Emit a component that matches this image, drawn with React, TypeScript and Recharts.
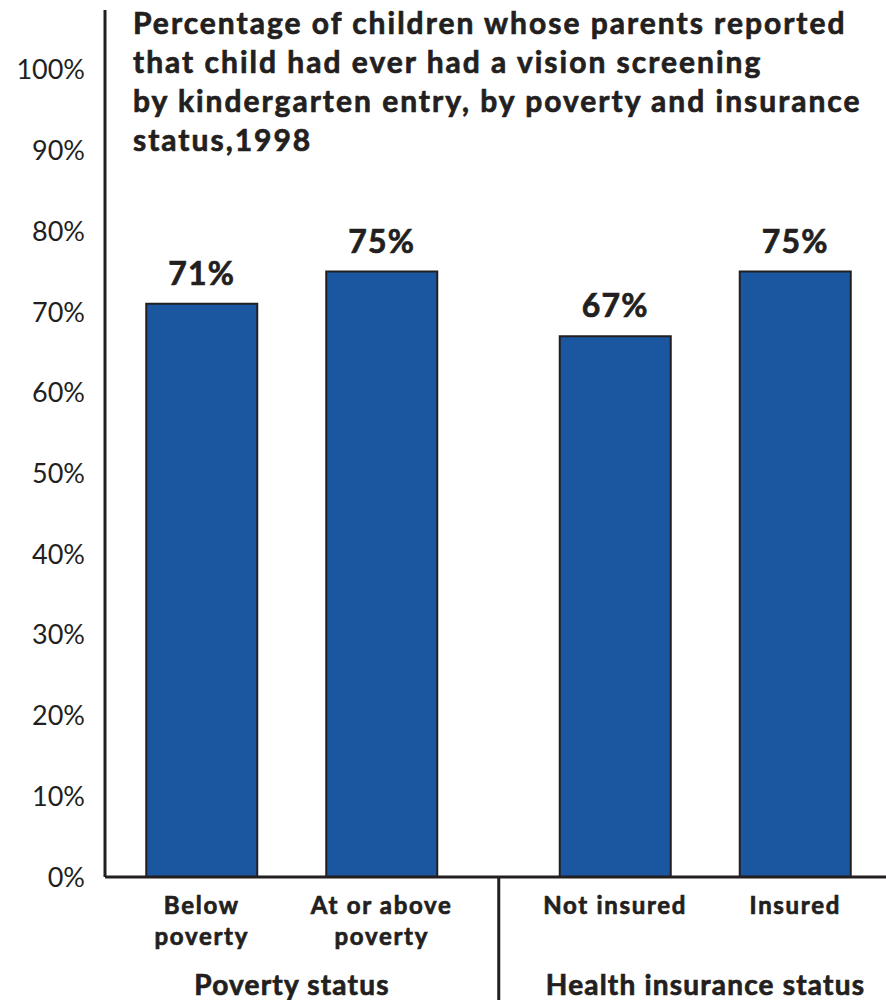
import { BarChart, Bar, XAxis, YAxis, LabelList, ReferenceLine } from 'recharts';

// Vision screening by kindergarten entry, 1998

const titleLines = [
  'Percentage of children whose parents reported',
  'that child had ever had a vision screening',
  'by kindergarten entry, by poverty and insurance',
  'status,1998',
];

const groups = ['Poverty status', 'Health insurance status'];
const firstNames = ['Below\npoverty', 'Not insured'];
const secondNames = ['At or above\npoverty', 'Insured'];
const firstValues = [71, 67];
const secondValues = [75, 75];
const yTicks = [0, 10, 20, 30, 40, 50, 60, 70, 80, 90, 100];

const INK = '#231f20';
const BLUE = '#1b56a0';
const FONT = 'Lato, "Open Sans", sans-serif';

const data = groups.map((g, i) => ({
  group: g,
  first: firstValues[i],
  second: secondValues[i],
  firstName: firstNames[i],
  secondName: secondNames[i],
}));

// shared look for the heavy labels
const heavy = { fontFamily: FONT, fontWeight: 700, fill: INK, stroke: INK, strokeWidth: 0.7 };

function ValueLabel(props: any) {
  const { x, y, width, value } = props;
  return (
    <text
      x={Number(x) + Number(width) / 2}
      y={Number(y) - 19}
      textAnchor="middle"
      fontSize={32}
      letterSpacing={1.2}
      {...heavy}
    >
      {value}%
    </text>
  );
}

function NameLabel(props: any) {
  const { x, y, width, height, value } = props;
  const lines = String(value).split('\n');
  const cx = Number(x) + Number(width) / 2;
  return (
    <text
      x={cx}
      y={Number(y) + Number(height) + 37}
      textAnchor="middle"
      fontSize={24}
      letterSpacing={1.7}
      {...heavy}
    >
      {lines.map((l, i) => (
        <tspan key={i} x={cx} dy={i === 0 ? 0 : 31}>
          {l}
        </tspan>
      ))}
    </text>
  );
}

function GroupTick(props: any) {
  const { x, y, payload } = props;
  return (
    <text x={x} y={y + 118} textAnchor="middle" fontSize={28} letterSpacing={1.2} {...heavy}>
      {payload.value}
    </text>
  );
}

// divider between the two groups, below the axis
function Divider(props: any) {
  const { x1 } = props;
  const top = Math.max(props.y1, props.y2);
  return <line x1={x1} x2={x1} y1={top} y2={top + 130} stroke={INK} strokeWidth={3} />;
}

export default function App() {
  return (
    <div style={{ position: 'absolute', left: 0, top: 0, width: 886, height: 1000, background: '#fff' }}>
      <BarChart
        width={886}
        height={1000}
        data={data}
        margin={{ top: 10, right: 0, bottom: 0, left: 0 }}
        barSize={111}
        barGap={69}
      >
        <YAxis
          domain={[0, 107.4]}
          ticks={yTicks}
          tickFormatter={(v: number) => `${v}%`}
          width={105}
          tickSize={0}
          tickMargin={20}
          axisLine={{ stroke: INK, strokeWidth: 3 }}
          tickLine={false}
          tick={{ fontFamily: FONT, fontSize: 27, fill: INK }}
        />
        <XAxis
          dataKey="group"
          height={123}
          padding={{ left: -19.75, right: -26.25 }}
          tickSize={0}
          tickMargin={0}
          tickLine={false}
          axisLine={{ stroke: INK, strokeWidth: 3 }}
          tick={<GroupTick />}
          interval={0}
        />
        <ReferenceLine
          x="Health insurance status"
          position="start"
          ifOverflow="visible"
          shape={<Divider />}
        />
        <Bar dataKey="first" fill={BLUE} stroke={INK} strokeWidth={2} isAnimationActive={false}>
          <LabelList dataKey="first" content={<ValueLabel />} />
          <LabelList dataKey="firstName" content={<NameLabel />} />
        </Bar>
        <Bar dataKey="second" fill={BLUE} stroke={INK} strokeWidth={2} isAnimationActive={false}>
          <LabelList dataKey="second" content={<ValueLabel />} />
          <LabelList dataKey="secondName" content={<NameLabel />} />
        </Bar>
      </BarChart>
      <div
        style={{
          position: 'absolute',
          left: 133,
          top: 3,
          fontFamily: FONT,
          fontSize: 30,
          fontWeight: 700,
          letterSpacing: 2,
          lineHeight: '39px',
          color: INK,
          WebkitTextStroke: '0.7px ' + INK,
          whiteSpace: 'nowrap',
        }}
      >
        {titleLines.map((l, i) => (
          <div key={i}>{l}</div>
        ))}
      </div>
    </div>
  );
}
